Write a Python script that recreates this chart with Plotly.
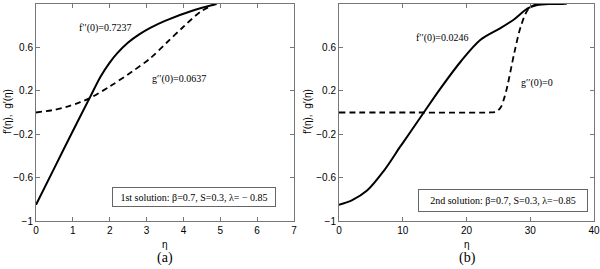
import plotly.graph_objects as go

# ---- data ----
eta_f1 = [0, 0.5, 1.0, 1.45, 1.75, 2.0, 2.2, 2.5, 2.8, 3.1, 3.5, 4.3, 4.9]
f1 = [-0.85, -0.51, -0.17, 0.13, 0.33, 0.46, 0.545, 0.645, 0.72, 0.78, 0.845, 0.945, 1.0]
eta_g1 = [0, 0.5, 0.85, 1.2, 1.45, 2.0, 2.6, 3.1, 3.55, 4.0, 4.45, 4.85]
g1 = [0.0, 0.025, 0.055, 0.095, 0.13, 0.24, 0.375, 0.50, 0.645, 0.79, 0.925, 1.0]

eta_f2 = [0, 2, 4.4, 7, 9.6, 11.2, 13.3, 15.9, 19.1, 22.2, 25.4, 27.5, 29.6, 31.1, 33, 35.3]
f2 = [-0.85, -0.81, -0.72, -0.54, -0.315, -0.18, 0.0, 0.22, 0.47, 0.67, 0.78, 0.86, 0.96, 0.99, 1.0, 1.0]
eta_g2 = [0, 12, 23.6, 24.4, 24.9, 25.4, 25.9, 26.4, 27.5, 28.5, 29.6, 30.6, 32, 36.4]
g2 = [0.0, 0.0, 0.0, 0.004, 0.018, 0.05, 0.13, 0.24, 0.55, 0.79, 0.945, 0.99, 1.0, 1.0]

yticks = [-1, -0.6, -0.2, 0.2, 0.6, 1]
ytick_text = ["\u22121", "\u22120.6", "\u22120.2", "0.2", "0.6", "1"]
xticks1 = [0, 1, 2, 3, 4, 5, 6, 7]
xticks2 = [0, 10, 20, 30, 40]

solid = dict(color="black", width=2, shape="spline", smoothing=0.9)
dashed = dict(color="black", width=1.8, dash="6px,4px", shape="spline", smoothing=0.9)

fig = go.Figure()
fig.add_trace(go.Scatter(x=eta_f1, y=f1, mode="lines", line=solid, xaxis="x", yaxis="y"))
fig.add_trace(go.Scatter(x=eta_g1, y=g1, mode="lines", line=dashed, xaxis="x", yaxis="y"))
fig.add_trace(go.Scatter(x=eta_f2, y=f2, mode="lines", line=solid, xaxis="x2", yaxis="y2"))
fig.add_trace(go.Scatter(x=eta_g2, y=g2, mode="lines", line=dashed, xaxis="x2", yaxis="y2"))

ax_common = dict(showgrid=False, zeroline=False, showline=True, linecolor="#777", linewidth=1,
                 mirror="ticks", ticks="inside", ticklen=4, tickcolor="#777", automargin=False,
                 tickfont=dict(family="Liberation Sans, Arial", size=10, color="black"))
ydom = [1 - 221 / 269, 1 - 4 / 269]
fig.update_layout(
    width=600, height=269, margin=dict(l=0, r=0, t=0, b=0, autoexpand=False),
    paper_bgcolor="white", plot_bgcolor="white", showlegend=False,
    xaxis=dict(domain=[36 / 600, 294 / 600], range=[0, 7], tickvals=xticks1, anchor="y", **ax_common),
    yaxis=dict(domain=ydom, range=[-1, 1], tickvals=yticks, ticktext=ytick_text, anchor="x", **ax_common),
    xaxis2=dict(domain=[339 / 600, 594 / 600], range=[0, 40], tickvals=xticks2, anchor="y2", **ax_common),
    yaxis2=dict(domain=ydom, range=[-1, 1], tickvals=yticks, ticktext=ytick_text, anchor="x2", **ax_common),
)

serif = dict(family="Liberation Serif, Times New Roman", size=10, color="black")
sans = dict(family="Liberation Sans, Arial", size=10, color="black")
big = dict(family="Liberation Serif, Times New Roman", size=14, color="black")


def paper(x, y, text, font, **kw):
    return dict(x=x / 600, y=1 - y / 269, xref="paper", yref="paper", text=text, showarrow=False,
                xanchor="center", yanchor="middle", font=font, **kw)


ann = [
    dict(x=1.1, y=0.78, xref="x", yref="y", text="f\u2032\u2032(0)=0.7237", showarrow=False, xanchor="left", font=serif),
    dict(x=3.1, y=0.31, xref="x", yref="y", text="g\u2032\u2032(0)=0.0637", showarrow=False, xanchor="left", font=serif),
    dict(x=11.7, y=0.69, xref="x2", yref="y2", text="f\u2032\u2032(0)=0.0246", showarrow=False, xanchor="left", font=serif),
    dict(x=28.2, y=0.27, xref="x2", yref="y2", text="g\u2032\u2032(0)=0", showarrow=False, xanchor="left", font=serif),
    paper(194, 197, "1st solution: \u03b2=0.7, S=0.3, \u03bb= \u2212 0.85", serif,
          bordercolor="#666", borderwidth=1, borderpad=0, width=162, height=18, bgcolor="white"),
    paper(503, 200, "2nd solution: \u03b2=0.7, S=0.3, \u03bb=\u22120.85", serif,
          bordercolor="#666", borderwidth=1, borderpad=0, width=168, height=21, bgcolor="white"),
    paper(165, 244, "\u03b7", sans),
    paper(467, 244, "\u03b7", sans),
    paper(165, 258, "(a)", big),
    paper(467, 258, "(b)", big),
    paper(7, 112, "f\u2032(\u03b7),  g\u2032(\u03b7)", sans, textangle=-90),
    paper(307, 112, "f\u2032(\u03b7),  g\u2032(\u03b7)", sans, textangle=-90),
]
fig.update_layout(annotations=ann)
fig.write_html("out.html", post_script="document.body.style.margin='0';",
               config={"displayModeBar": False})
